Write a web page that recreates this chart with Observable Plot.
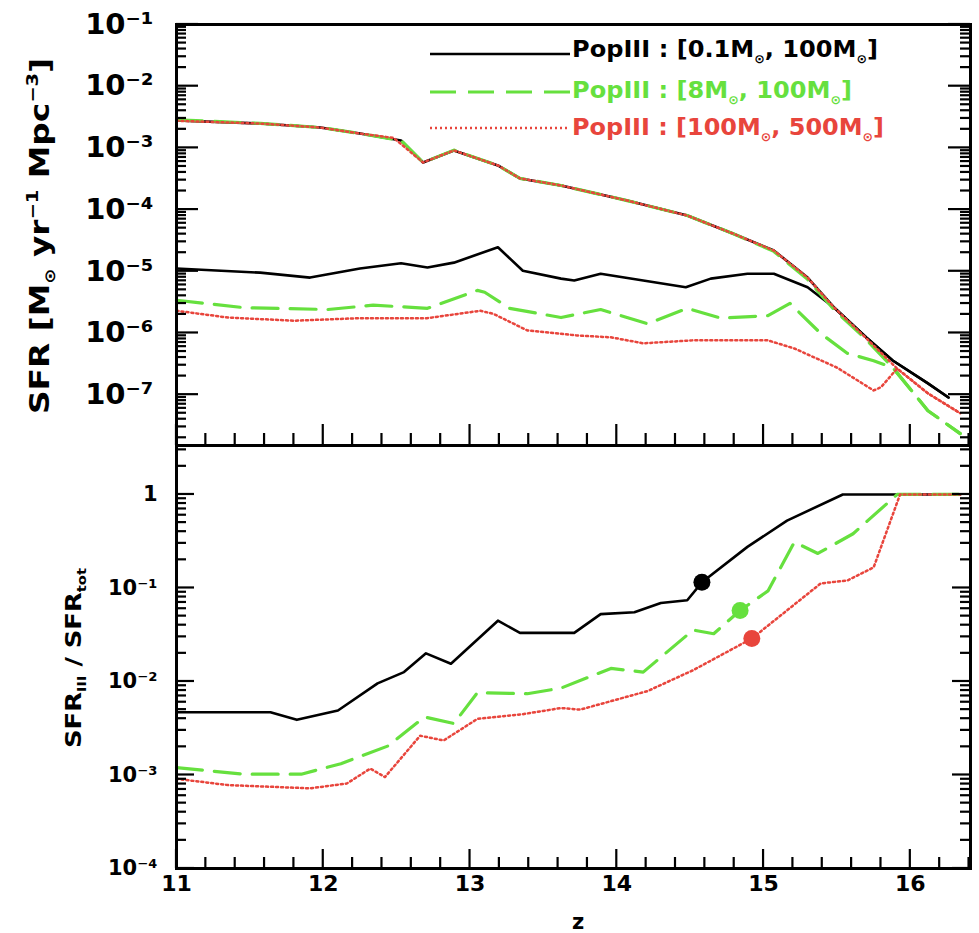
<!DOCTYPE html>
<html><head><meta charset="utf-8">
<script src="https://cdn.jsdelivr.net/npm/d3@7"></script>
<script src="https://cdn.jsdelivr.net/npm/@observablehq/plot@0.6"></script>
<style>
body{margin:0;background:#fff;}
#wrap{position:relative;width:979px;height:933px;overflow:hidden;font-family:"DejaVu Sans",sans-serif;}
#wrap > *{position:absolute;left:0;}
</style></head><body><div id="wrap"></div>
<script>
// ---------- DATA ----------
const totBlackZ = [11.0, 11.57, 11.98, 12.25, 12.53, 12.68, 12.89, 13.19, 13.34, 13.62, 14.07, 14.48, 14.79, 15.07, 15.30, 15.48, 15.70, 15.88, 16.12, 16.26];
const totBlackSFR = [2.78e-3, 2.48e-3, 2.14e-3, 1.71e-3, 1.32e-3, 5.8e-4, 9.1e-4, 5.2e-4, 3.2e-4, 2.46e-4, 1.40e-4, 8.0e-5, 4.1e-5, 2.17e-5, 7.9e-6, 2.59e-6, 8.45e-7, 3.58e-7, 1.52e-7, 9.0e-8];
const totGreenZ = [11.0, 11.57, 11.98, 12.25, 12.53, 12.68, 12.89, 13.19, 13.34, 13.62, 14.07, 14.48, 14.79, 15.07, 15.30, 15.48, 15.70, 15.88, 16.12, 16.34];
const totGreenSFR = [2.85e-3, 2.5e-3, 2.14e-3, 1.71e-3, 1.32e-3, 5.8e-4, 9.2e-4, 5.2e-4, 3.2e-4, 2.46e-4, 1.40e-4, 8.0e-5, 4.1e-5, 2.1e-5, 7.4e-6, 2.4e-6, 7.8e-7, 2.75e-7, 5.5e-8, 2.34e-8];
const totRedZ = [11.0, 11.57, 11.98, 12.25, 12.48, 12.68, 12.89, 13.19, 13.34, 13.62, 14.07, 14.48, 14.79, 15.07, 15.30, 15.48, 15.70, 15.91, 16.12, 16.34];
const totRedSFR = [2.75e-3, 2.48e-3, 2.14e-3, 1.71e-3, 1.45e-3, 5.8e-4, 9.1e-4, 5.2e-4, 3.2e-4, 2.46e-4, 1.40e-4, 8.0e-5, 4.1e-5, 2.17e-5, 7.9e-6, 2.59e-6, 8.2e-7, 2.65e-7, 1.05e-7, 5.0e-8];
const p3BlackZ = [11.0, 11.57, 11.91, 12.25, 12.53, 12.71, 12.89, 13.19, 13.36, 13.62, 13.71, 13.89, 14.18, 14.47, 14.64, 14.89, 15.07, 15.30, 15.48, 15.70, 15.88, 16.12, 16.26];
const p3BlackSFR = [1.11e-5, 9.5e-6, 7.9e-6, 1.11e-5, 1.35e-5, 1.15e-5, 1.38e-5, 2.45e-5, 1.02e-5, 7.6e-6, 7.1e-6, 9.1e-6, 7.1e-6, 5.5e-6, 7.6e-6, 9.1e-6, 9.1e-6, 5.5e-6, 2.59e-6, 8.45e-7, 3.58e-7, 1.52e-7, 9.0e-8];
const p3GreenZ = [11.0, 11.46, 12.03, 12.34, 12.71, 13.05, 13.10, 13.27, 13.62, 13.89, 14.21, 14.48, 14.71, 15.03, 15.18, 15.39, 15.57, 15.75, 15.88, 16.12, 16.34];
const p3GreenSFR = [3.39e-6, 2.57e-6, 2.40e-6, 2.82e-6, 2.51e-6, 4.9e-6, 4.57e-6, 2.51e-6, 1.78e-6, 2.40e-6, 1.41e-6, 2.51e-6, 1.74e-6, 1.91e-6, 3.02e-6, 9.8e-7, 4.68e-7, 3.55e-7, 2.75e-7, 5.5e-8, 2.34e-8];
const p3RedZ = [11.0, 11.35, 11.80, 12.25, 12.71, 13.07, 13.16, 13.39, 13.73, 13.96, 14.18, 14.52, 15.03, 15.21, 15.50, 15.75, 15.80, 15.91, 16.12, 16.34];
const p3RedSFR = [2.29e-6, 1.78e-6, 1.58e-6, 1.74e-6, 1.74e-6, 2.29e-6, 2.04e-6, 1.10e-6, 9.1e-7, 8.5e-7, 6.8e-7, 7.6e-7, 7.6e-7, 5.6e-7, 2.75e-7, 1.17e-7, 1.32e-7, 2.65e-7, 1.05e-7, 5.0e-8];
const rBlackZ = [11.0, 11.64, 11.82, 12.10, 12.37, 12.55, 12.70, 12.87, 13.19, 13.34, 13.71, 13.89, 14.12, 14.30, 14.48, 14.58, 14.89, 15.16, 15.54, 16.34];
const rBlack = [4.68e-3, 4.68e-3, 3.89e-3, 4.90e-3, 9.55e-3, 1.26e-2, 2.0e-2, 1.55e-2, 4.47e-2, 3.31e-2, 3.31e-2, 5.25e-2, 5.5e-2, 6.9e-2, 7.4e-2, 0.115, 0.275, 0.525, 1, 1];
const rGreenZ = [11.0, 11.46, 11.85, 12.12, 12.44, 12.69, 12.89, 13.05, 13.39, 13.62, 13.96, 14.18, 14.52, 14.66, 14.84, 15.03, 15.21, 15.37, 15.61, 15.91, 16.34];
const rGreen = [1.20e-3, 1.02e-3, 1.02e-3, 1.32e-3, 2.04e-3, 4.17e-3, 3.55e-3, 7.6e-3, 7.4e-3, 8.5e-3, 1.38e-2, 1.26e-2, 3.55e-2, 3.24e-2, 5.75e-2, 9.3e-2, 0.309, 0.234, 0.380, 1, 1];
const rRedZ = [11.0, 11.35, 11.91, 12.16, 12.32, 12.42, 12.66, 12.82, 13.05, 13.36, 13.62, 13.75, 14.21, 14.52, 14.92, 15.39, 15.57, 15.75, 15.93, 16.34];
const rRed = [9.1e-4, 7.8e-4, 7.2e-4, 8.1e-4, 1.17e-3, 9.5e-4, 2.63e-3, 2.34e-3, 3.98e-3, 4.47e-3, 5.2e-3, 5.0e-3, 7.9e-3, 1.32e-2, 2.88e-2, 0.112, 0.120, 0.166, 1, 1];
const markerZ = [14.58, 14.84, 14.92];
const markerRatio = [0.115, 0.0575, 0.0288];
const xTicks = [11, 12, 13, 14, 15, 16];
const xTickLabels = ["11", "12", "13", "14", "15", "16"];
const topYTicks = [1e-7, 1e-6, 1e-5, 1e-4, 1e-3, 1e-2, 1e-1];
const topYTickLabels = ["10⁻⁷", "10⁻⁶", "10⁻⁵", "10⁻⁴", "10⁻³", "10⁻²", "10⁻¹"];
const botYTicks = [1e-4, 1e-3, 1e-2, 1e-1, 1];
const botYTickLabels = ["10⁻⁴", "10⁻³", "10⁻²", "10⁻¹", "1"];
const legendLabels = [["PopIII : [0.1M", "⊙", ", 100M", "⊙", "]"], ["PopIII : [8M", "⊙", ", 100M", "⊙", "]"], ["PopIII : [100M", "⊙", ", 500M", "⊙", "]"]];

// ---------- STYLE ----------
const BLACK = "#000000", GREEN = "#66e03e", RED = "#e8453c";
const FONT = '"DejaVu Sans", sans-serif';
const xDomain = [11, 16.41];
const topDomain = [1.5e-8, 0.1];
const botDomain = [1e-4, 3.34];
const ML = 176, MR = 9, W = 979;
const BOT_TOP = 444;

const ser = (z, v) => z.map((zz, i) => ({z: zz, v: v[i]}));
const styles = {
  black: {stroke: BLACK, strokeWidth: 2.6},
  green: {stroke: GREEN, strokeWidth: 3.2, strokeDasharray: "26,12"},
  red: {stroke: RED, strokeWidth: 2.5, strokeDasharray: "2,3"}
};
const lineMark = (data, st) => Plot.line(data, {x: "z", y: "v", ...st});

function minorLog(domain) {
  const out = [];
  for (let e = -9; e <= 1; e++) for (let k = 2; k <= 9; k++) {
    const v = k * Math.pow(10, e);
    if (v > domain[0] && v < domain[1]) out.push(v);
  }
  return out;
}
const xMinor = [];
for (let i = 1; i <= 27; i++) { const v = Math.round((11 + i * 0.2) * 10) / 10; if (Math.abs(v - Math.round(v)) > 1e-6 && v <= xDomain[1]) xMinor.push(v); }

// ---------- TOP PANEL ----------
const topPlot = Plot.plot({
  width: W, height: 446, marginTop: 24, marginBottom: 1, marginLeft: ML, marginRight: MR,
  style: {fontFamily: FONT},
  x: {domain: xDomain, axis: null},
  y: {type: "log", domain: topDomain, axis: null},
  marks: [
    lineMark(ser(totBlackZ, totBlackSFR), styles.black),
    lineMark(ser(p3BlackZ, p3BlackSFR), styles.black),
    lineMark(ser(totGreenZ, totGreenSFR), styles.green),
    lineMark(ser(p3GreenZ, p3GreenSFR), styles.green),
    lineMark(ser(totRedZ, totRedSFR), styles.red),
    lineMark(ser(p3RedZ, p3RedSFR), styles.red),
    Plot.frame({stroke: "black", strokeWidth: 3}),
    Plot.text(topYTicks, {y: d => d, text: (d, i) => topYTickLabels[i], frameAnchor: "left", textAnchor: "end", dx: -23, fontSize: 29, fontWeight: "bold", fill: "black"})
  ]
});
topPlot.style.top = "0px";

// ---------- BOTTOM PANEL ----------
const botPlot = Plot.plot({
  width: W, height: 489, marginTop: 1, marginBottom: 65, marginLeft: ML, marginRight: MR,
  style: {fontFamily: FONT},
  x: {domain: xDomain, axis: null},
  y: {type: "log", domain: botDomain, axis: null},
  marks: [
    lineMark(ser(rBlackZ, rBlack), styles.black),
    lineMark(ser(rGreenZ, rGreen), styles.green),
    lineMark(ser(rRedZ, rRed), styles.red),
    Plot.dot([0], {x: () => markerZ[0], y: () => markerRatio[0], r: 8.5, fill: BLACK}),
    Plot.dot([0], {x: () => markerZ[1], y: () => markerRatio[1], r: 8.5, fill: GREEN}),
    Plot.dot([0], {x: () => markerZ[2], y: () => markerRatio[2], r: 8.5, fill: RED}),
    Plot.frame({stroke: "black", strokeWidth: 3}),
    Plot.text(botYTicks, {y: d => d, text: (d, i) => botYTickLabels[i], frameAnchor: "left", textAnchor: "end", dx: -19, fontSize: 21, fontWeight: "bold", fill: "black"}),
    Plot.text(xTicks, {x: d => d, text: (d, i) => xTickLabels[i], frameAnchor: "bottom", dy: 22, fontSize: 22, fontWeight: "bold", fill: "black"})
  ]
});
botPlot.style.top = BOT_TOP + "px";

const wrap = document.getElementById("wrap");
wrap.appendChild(botPlot);
wrap.appendChild(topPlot);

// ---------- TICK MARKS (positions from Plot's own scales) ----------
const xs = topPlot.scale("x");
const [xL, xR] = xs.range;
let ticks = "";
const seg = (x1, y1, x2, y2) => { ticks += `<line x1="${x1}" y1="${y1}" x2="${x2}" y2="${y2}"/>`; };
function panelTicks(plot, offset, yMaj, yMin, majLen, minLen, xMajLen, xMinLen) {
  const ys = plot.scale("y");
  const yBottom = ys.range[0] + offset;
  yMaj.forEach(v => { const y = ys.apply(v) + offset; seg(xL, y, xL + majLen, y); seg(xR, y, xR - majLen, y); });
  yMin.forEach(v => { const y = ys.apply(v) + offset; seg(xL, y, xL + minLen, y); seg(xR, y, xR - minLen, y); });
  xTicks.forEach(v => { const x = xs.apply(v); seg(x, yBottom, x, yBottom - xMajLen); });
  xMinor.forEach(v => { const x = xs.apply(v); seg(x, yBottom, x, yBottom - xMinLen); });
}
panelTicks(topPlot, 0, topYTicks, minorLog(topDomain), 22, 10, 21, 12);
panelTicks(botPlot, BOT_TOP, botYTicks, minorLog(botDomain), 18, 10, 19, 11);

// ---------- LABELS & LEGEND (overlay) ----------
const colors = [BLACK, GREEN, RED];
const dashes = ["none", "26,12", "2,3"];
const widths = [2.6, 3.2, 2.5];
const legendLineY = [54, 92, 128];
const legendBase = [57, 98, 135];
const legendLen = [306, 280, 312];
let leg = "";
legendLabels.forEach((parts, i) => {
  leg += `<line x1="430" x2="570" y1="${legendLineY[i]}" y2="${legendLineY[i]}" stroke="${colors[i]}" stroke-width="${widths[i]}" stroke-dasharray="${dashes[i]}"/>`;
  leg += `<text x="572" y="${legendBase[i]}" fill="${colors[i]}" font-size="23" font-weight="bold" textLength="${legendLen[i]}" lengthAdjust="spacingAndGlyphs">${parts[0]}<tspan font-size="12" dy="6">${parts[1]}</tspan><tspan dy="-6">${parts[2]}</tspan><tspan font-size="12" dy="6">${parts[3]}</tspan><tspan dy="-6">${parts[4]}</tspan></text>`;
});
const ov = document.createElementNS("http://www.w3.org/2000/svg", "svg");
ov.setAttribute("width", W); ov.setAttribute("height", 933);
ov.style.top = "0px"; ov.style.fontFamily = FONT; ov.style.pointerEvents = "none";
ov.innerHTML = `<g stroke="black" stroke-width="2.2">${ticks}</g>` + leg +
  `<text transform="translate(49,236) rotate(-90)" text-anchor="middle" font-size="27" font-weight="bold" fill="black" textLength="356" lengthAdjust="spacingAndGlyphs">SFR [M<tspan font-size="15" dy="6">⊙</tspan><tspan dy="-6"> yr</tspan><tspan font-size="16" dy="-11">−1</tspan><tspan dy="11"> Mpc</tspan><tspan font-size="16" dy="-11">−3</tspan><tspan dy="11">]</tspan></text>` +
  `<text transform="translate(81,658) rotate(-90)" text-anchor="middle" font-size="21" font-weight="bold" fill="black" textLength="180" lengthAdjust="spacingAndGlyphs">SFR<tspan font-size="12" dy="5">III</tspan><tspan dy="-5"> / SFR</tspan><tspan font-size="12" dy="5">tot</tspan></text>` +
  `<text x="578" y="929" text-anchor="middle" font-size="21" font-weight="bold" fill="black">z</text>`;
wrap.appendChild(ov);
</script></body></html>
